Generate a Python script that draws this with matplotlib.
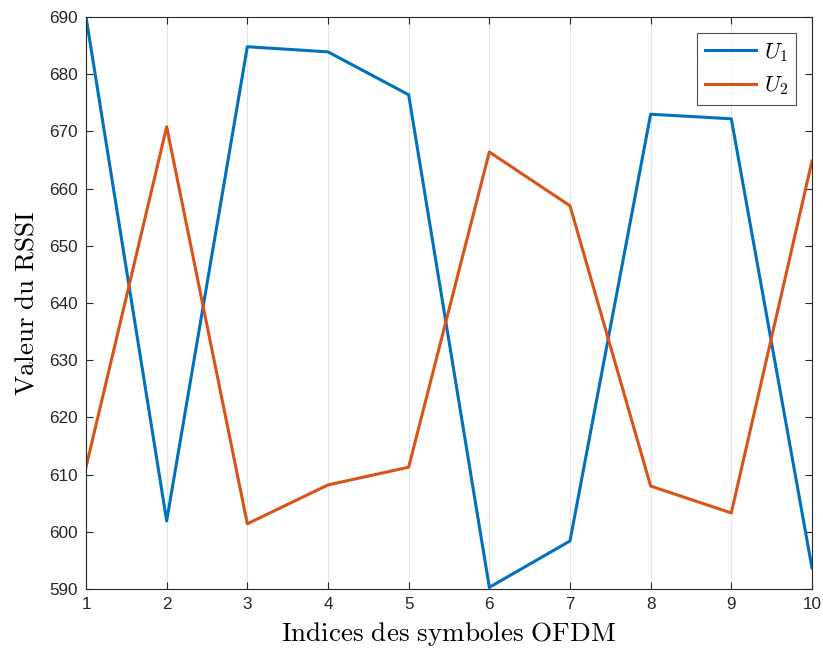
import matplotlib
matplotlib.use("Agg")
import matplotlib.pyplot as plt

symbols = [1, 2, 3, 4, 5, 6, 7, 8, 9, 10]
u1 = [690.0, 601.9, 684.8, 683.9, 676.4, 590.3, 598.4, 673.0, 672.2, 593.7]
u2 = [611.3, 670.8, 601.4, 608.2, 611.3, 666.4, 657.0, 608.0, 603.3, 664.8]
yticks = [590, 600, 610, 620, 630, 640, 650, 660, 670, 680, 690]

plt.rcParams['mathtext.fontset'] = 'cm'
plt.rcParams['font.family'] = ['Liberation Sans', 'DejaVu Sans']

fig = plt.figure(figsize=(8.23, 6.48), dpi=100)
ax = fig.add_axes([0.1045, 0.091, 0.8821, 0.8828])

ax.plot(symbols, u1, color='#0072BD', lw=2.2, label=r'$U_1$')
ax.plot(symbols, u2, color='#D95319', lw=2.2, label=r'$U_2$')

ax.set_xlim(1, 10)
ax.set_ylim(590, 690)
ax.set_xticks(symbols)
ax.set_yticks(yticks)
ax.grid(axis='x', color='#262626', alpha=0.12, lw=0.8)
ax.tick_params(direction='in', top=True, right=True, length=5, width=0.8,
               labelsize=12.3, colors='#262626', pad=6)
for s in ax.spines.values():
    s.set_color('#262626')
    s.set_linewidth(0.8)

ax.set_xlabel(r'$\mathrm{Indices\ des\ symboles\ OFDM}$', fontsize=19.5, labelpad=5.5)
ax.set_ylabel(r'$\mathrm{Valeur\ du\ RSSI}$', fontsize=19.5, labelpad=6.5)

leg = ax.legend(loc='upper right', fontsize=16, frameon=True, fancybox=False,
                edgecolor='#262626', handlelength=2.3, handletextpad=0.35,
                borderpad=0.35, borderaxespad=0.72)
leg.get_frame().set_linewidth(0.8)

fig.savefig('out.png', dpi=100)
